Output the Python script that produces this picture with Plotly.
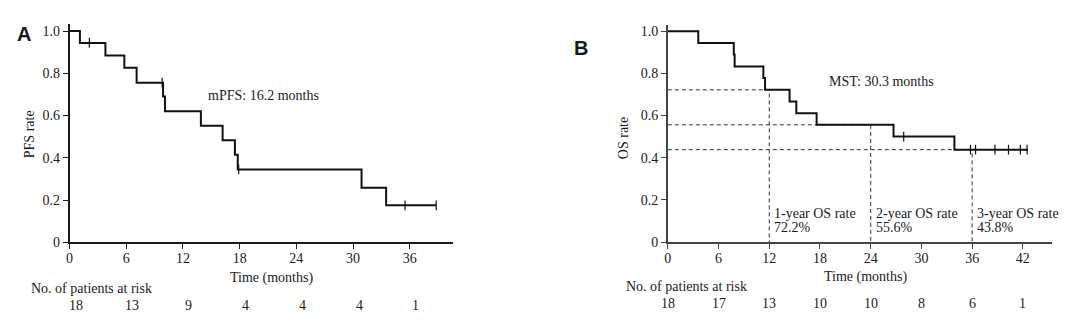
import plotly.graph_objects as go

# ---- Panel A: progression-free survival ----
pfs_time = [0, 1.1, 3.8, 5.8, 7.1, 9.9, 10.1, 13.9, 16.2, 17.5, 17.8, 30.9, 33.5, 38.8]
pfs_rate = [1.0, 0.944, 0.885, 0.826, 0.756, 0.690, 0.621, 0.552, 0.483, 0.414, 0.345, 0.258, 0.175, 0.175]
pfs_cens_time = [2.1, 9.8, 17.9, 35.5, 38.8]
pfs_cens_rate = [0.944, 0.756, 0.345, 0.175, 0.175]
pfs_risk_time = [0, 6, 12, 18, 24, 30, 36]
pfs_risk_n = [18, 13, 9, 4, 4, 4, 1]
pfs_xticks = [0, 6, 12, 18, 24, 30, 36]

# ---- Panel B: overall survival ----
os_time = [0, 3.6, 7.8, 7.9, 11.3, 11.5, 14.4, 15.2, 17.6, 26.7, 33.9, 42.6]
os_rate = [1.0, 0.944, 0.889, 0.833, 0.778, 0.722, 0.667, 0.611, 0.556, 0.500, 0.438, 0.438]
os_cens_time = [27.9, 35.8, 36.4, 38.7, 40.3, 41.7, 42.5]
os_cens_rate = [0.500, 0.438, 0.438, 0.438, 0.438, 0.438, 0.438]
os_risk_time = [0, 6, 12, 18, 24, 30, 36, 42]
os_risk_n = [18, 17, 13, 10, 10, 8, 6, 1]
os_xticks = [0, 6, 12, 18, 24, 30, 36, 42]
milestone_month = [12, 24, 36]
milestone_rate = [0.722, 0.556, 0.438]
milestone_name = ["1-year OS rate", "2-year OS rate", "3-year OS rate"]

y_ticks = [0, 0.2, 0.4, 0.6, 0.8, 1.0]
y_ticktext = ["0", "0.2", "0.4", "0.6", "0.8", "1.0"]

W, H = 1080, 333
SERIF = "Liberation Serif, Times New Roman, serif"
TXT = "#1a1a1a"
FS = 14


def fx(p):
    """pixel column -> paper fraction"""
    return p / W


def fy(p):
    """pixel row (from top) -> paper fraction"""
    return 1 - p / H


fig = go.Figure()

line_style = dict(color="#111111", width=2)
cens_marker = dict(symbol="line-ns", size=7, line=dict(color="#111111", width=1.2))

# Panel A: Kaplan-Meier curve and censor ticks
fig.add_trace(go.Scatter(x=pfs_time, y=pfs_rate, mode="lines", line_shape="hv",
                         line=line_style, xaxis="x", yaxis="y", hoverinfo="skip"))
fig.add_trace(go.Scatter(x=pfs_cens_time, y=pfs_cens_rate, mode="markers",
                         marker=cens_marker, xaxis="x", yaxis="y", hoverinfo="skip"))

# Panel B: dashed guides at the 1/2/3-year landmarks
for m, r in zip(milestone_month, milestone_rate):
    fig.add_trace(go.Scatter(x=[0, m, m], y=[r, r, 0], mode="lines",
                             line=dict(color="#333333", width=1, dash="4px,3px"),
                             xaxis="x2", yaxis="y2", hoverinfo="skip"))

# Panel B: Kaplan-Meier curve and censor ticks
fig.add_trace(go.Scatter(x=os_time, y=os_rate, mode="lines", line_shape="hv",
                         line=line_style, xaxis="x2", yaxis="y2", hoverinfo="skip"))
fig.add_trace(go.Scatter(x=os_cens_time, y=os_cens_rate, mode="markers",
                         marker=cens_marker, xaxis="x2", yaxis="y2", hoverinfo="skip"))

axis_common = dict(showline=True, linewidth=1.5, ticks="outside",
                   ticklen=5, tickwidth=1, showgrid=False,
                   zeroline=False, tickfont=dict(family=SERIF, size=FS, color=TXT))

fig.update_layout(
    width=W, height=H, autosize=False, margin=dict(l=0, r=0, t=0, b=0, pad=0),
    paper_bgcolor="white", plot_bgcolor="white", showlegend=False,
    xaxis=dict(domain=[fx(66.7), fx(451)], range=[0, 40.55], tickvals=pfs_xticks,
               anchor="y", ticklabelstandoff=-3, linecolor="#1a1a1a", tickcolor="#1a1a1a",
               **axis_common),
    yaxis=dict(domain=[fy(248), fy(24)], range=[0, 1.032], tickvals=y_ticks,
               ticktext=y_ticktext, anchor="x", linecolor="#1a1a1a", tickcolor="#1a1a1a",
               **axis_common),
    xaxis2=dict(domain=[fx(666.7), fx(1051.7)], range=[0, 45.42], tickvals=os_xticks,
                anchor="y2", ticklabelstandoff=-3, linecolor="#444444", tickcolor="#444444",
                **axis_common),
    yaxis2=dict(domain=[fy(247.7), fy(25)], range=[0, 1.028], tickvals=y_ticks,
                ticktext=y_ticktext, anchor="x2", linecolor="#444444", tickcolor="#444444",
                **axis_common),
)

ann = []


def text(x, y, s, xanchor="left", size=FS, family=SERIF, bold=False, angle=0,
         xref="paper", yref="paper"):
    ann.append(dict(x=x, y=y, xref=xref, yref=yref, text=f"<b>{s}</b>" if bold else s,
                    showarrow=False, xanchor=xanchor, yanchor="middle", textangle=angle,
                    font=dict(family=family, size=size, color=TXT)))


# panel letters
text(fx(12), fy(34), "A", size=20, family="Liberation Sans, Arial, sans-serif", bold=True)
text(fx(571), fy(48), "B", size=20, family="Liberation Sans, Arial, sans-serif", bold=True)

# axis titles
text(fx(26), fy(137), "PFS rate", xanchor="center", angle=-90)
text(fx(621.7), fy(141), "OS rate", xanchor="center", angle=-90)
text(fx(269), fy(285), "Time (months)", xanchor="center")
text(fx(865), fy(284), "Time (months)", xanchor="center")

# medians
text(fx(204), fy(97), "mPFS: 16.2 months")
text(fx(826), fy(83), "MST: 30.3 months")

# landmark labels
for m, r, name in zip(milestone_month, milestone_rate, milestone_name):
    ann.append(dict(x=m, y=fy(218.3), xref="x2", yref="paper", text=name, showarrow=False,
                    xanchor="left", yanchor="middle", xshift=3,
                    font=dict(family=SERIF, size=FS, color=TXT)))
    ann.append(dict(x=m, y=fy(233.3), xref="x2", yref="paper", text=f"{r * 100:.1f}%",
                    showarrow=False, xanchor="left", yanchor="middle", xshift=3,
                    font=dict(family=SERIF, size=FS, color=TXT)))

# numbers at risk
text(fx(26), fy(295), "No. of patients at risk")
text(fx(622.7), fy(293), "No. of patients at risk")
for t, n in zip(pfs_risk_time, pfs_risk_n):
    ann.append(dict(x=t, y=fy(313), xref="x", yref="paper", text=str(n), showarrow=False,
                    xanchor="center", yanchor="middle", xshift=6,
                    font=dict(family=SERIF, size=FS, color=TXT)))
for t, n in zip(os_risk_time, os_risk_n):
    ann.append(dict(x=t, y=fy(311), xref="x2", yref="paper", text=str(n), showarrow=False,
                    xanchor="center", yanchor="middle",
                    font=dict(family=SERIF, size=FS, color=TXT)))

fig.update_layout(annotations=ann)
fig.write_html("out.html")
